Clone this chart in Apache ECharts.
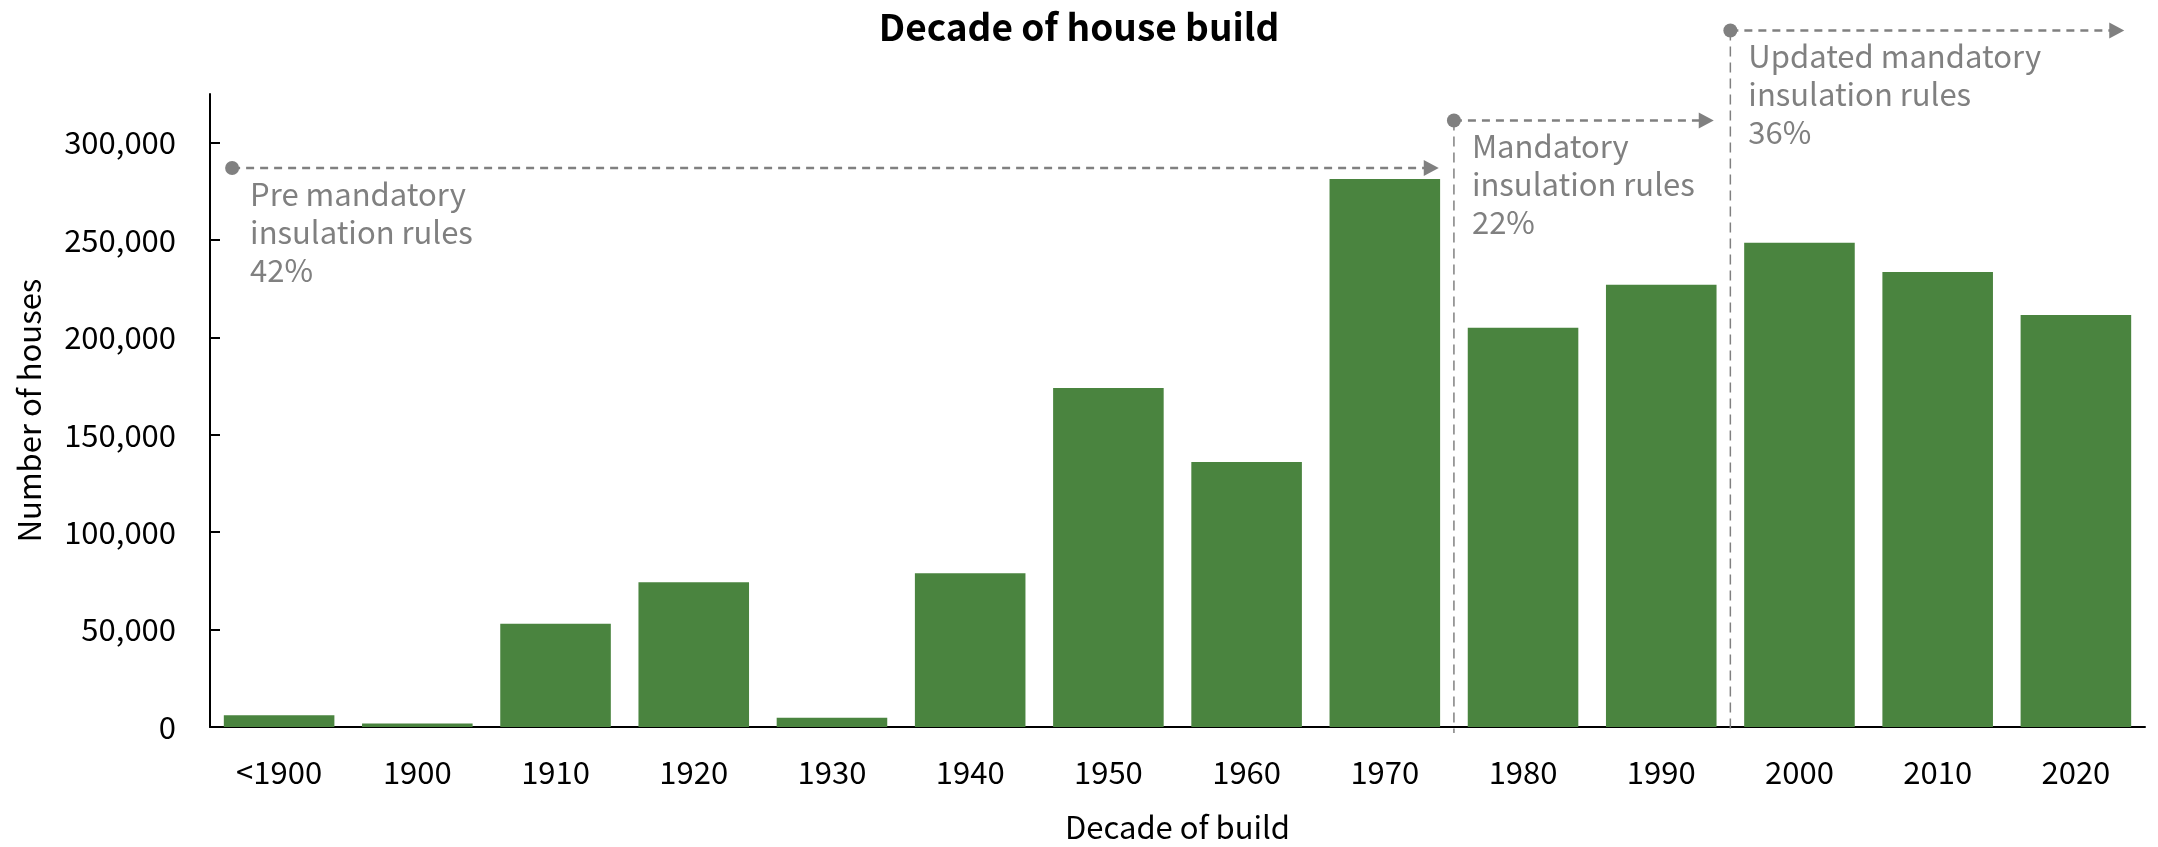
<!DOCTYPE html>
<html>
<head>
<meta charset="utf-8">
<title>Decade of house build</title>
<script src="https://cdn.jsdelivr.net/npm/echarts@6/dist/echarts.min.js"></script>
<style>
  html, body { margin: 0; padding: 0; background: #fff; }
  #chart { width: 2158px; height: 847px; }
</style>
</head>
<body>
<div id="chart"></div>
<script>
// 数据
const decades = ['<1900', '1900', '1910', '1920', '1930', '1940', '1950', '1960', '1970', '1980', '1990', '2000', '2010', '2020'];
const houses = [6000, 1800, 53000, 74300, 4800, 79000, 174000, 136000, 281400, 205000, 227000, 248600, 233600, 211500];
const yTicks = [0, 50000, 100000, 150000, 200000, 250000, 300000];

// annotation spans, in category index units (bar i centred on i)
const spanStart = [-0.34, 8.5, 10.5];
const spanEnd = [8.39, 10.38, 13.35];
const spanLevel = [287000, 311400, 357600];
const spanDrop = [false, true, true];
const spanText = [
    'Pre mandatory\ninsulation rules\n42%',
    'Mandatory\ninsulation rules\n22%',
    'Updated mandatory\ninsulation rules\n36%'
];

const FONT = 'Noto Sans CJK KR';
const GREY = '#808080';

let chart = echarts.init(document.getElementById('chart'));

function renderSpan(params, api) {
    let i = params.dataIndex;
    let s = api.coord([api.value(0), api.value(2)]);
    let e = api.coord([api.value(1), api.value(2)]);
    let base = api.coord([api.value(0), 0]);
    let children = [
        {
            type: 'line',
            shape: {x1: s[0], y1: s[1], x2: e[0] - 14, y2: e[1]},
            style: {stroke: GREY, lineWidth: 2.5, lineDash: [8, 6]}
        },
        {
            type: 'polygon',
            shape: {points: [[e[0], e[1]], [e[0] - 15, e[1] - 8], [e[0] - 15, e[1] + 8]]},
            style: {fill: GREY}
        },
        {
            type: 'circle',
            shape: {cx: s[0], cy: s[1], r: 7},
            style: {fill: GREY}
        },
        {
            type: 'text',
            x: s[0] + 18,
            y: s[1] + 7,
            style: {
                text: spanText[i],
                fill: GREY,
                font: '31px "' + FONT + '"',
                lineHeight: 38,
                verticalAlign: 'top'
            }
        }
    ];
    if (spanDrop[i]) {
        children.push({
            type: 'line',
            shape: {x1: s[0], y1: s[1], x2: base[0], y2: base[1] + 6},
            style: {stroke: GREY, lineWidth: 1.5, lineDash: [10, 6]}
        });
    }
    return {type: 'group', children: children};
}

chart.setOption({
    animation: false,
    textStyle: {fontFamily: FONT},
    title: {
        text: 'Decade of house build',
        left: 'center',
        top: 3,
        textStyle: {fontFamily: FONT, fontSize: 37, fontWeight: 'bold', color: '#000'}
    },
    grid: {left: 210, right: 13, top: 94, bottom: 120, containLabel: false, outerBoundsMode: 'none'},
    xAxis: [
        {
            type: 'category',
            data: decades,
            name: 'Decade of build',
            nameLocation: 'middle',
            nameGap: 85,
            nameTextStyle: {fontSize: 31, color: '#000'},
            axisLine: {lineStyle: {color: '#000', width: 2}},
            axisTick: {inside: true, length: 10, lineStyle: {color: '#000', width: 2}},
            axisLabel: {fontSize: 31, color: '#000', margin: 30}
        },
        {
            type: 'value',
            min: -0.5,
            max: 13.5,
            show: false
        }
    ],
    yAxis: {
        type: 'value',
        min: 0,
        max: 325000,
        interval: 50000,
        name: 'Number of houses',
        nameLocation: 'middle',
        nameGap: 165,
        nameTextStyle: {fontSize: 31, color: '#000'},
        splitLine: {show: false},
        axisLine: {show: true, onZero: false, lineStyle: {color: '#000', width: 2}},
        axisTick: {show: true, inside: true, length: 10, customValues: yTicks, lineStyle: {color: '#000', width: 2}},
        axisLabel: {
            fontSize: 31,
            color: '#000',
            margin: 34,
            customValues: yTicks,
            formatter: function (v) {
                return v.toLocaleString('en-US');
            }
        }
    },
    series: [
        {
            type: 'bar',
            data: houses,
            barWidth: '80%',
            itemStyle: {color: '#4a843f'}
        },
        {
            type: 'custom',
            xAxisIndex: 1,
            clip: false,
            silent: true,
            encode: {x: [0, 1], y: 2},
            data: spanStart.map(function (c, i) {
                return [c, spanEnd[i], spanLevel[i]];
            }),
            renderItem: renderSpan,
            z: 5
        }
    ]
});
</script>
</body>
</html>
